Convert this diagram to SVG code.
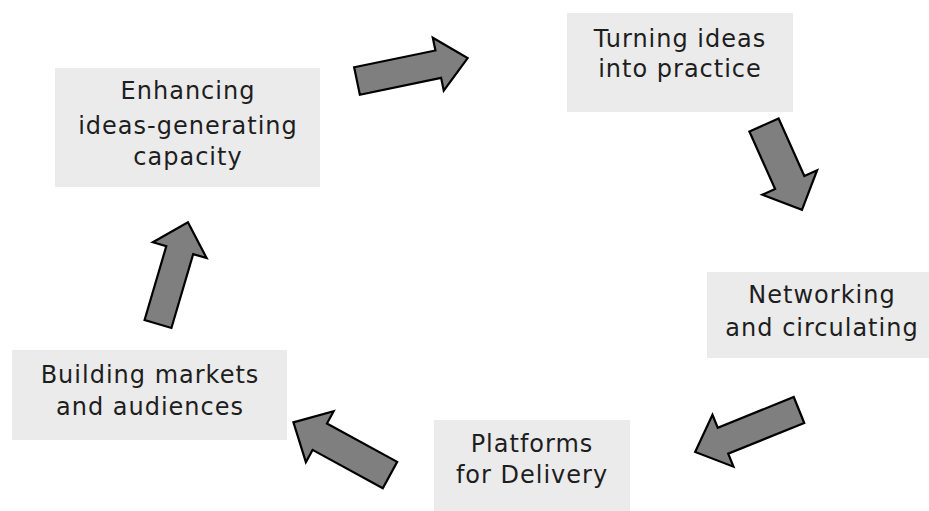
<svg xmlns="http://www.w3.org/2000/svg" width="929" height="511" viewBox="0 0 929 511">
<style>
.box{fill:#ebebeb}
.t{font-family:"DejaVu Sans",Verdana,sans-serif;font-size:24px;letter-spacing:1px;fill:#1e1e1e;text-anchor:middle}
.arr{fill:#7f7f7f;stroke:#000;stroke-width:2.2;stroke-linejoin:miter}
</style>
<rect width="929" height="511" fill="#fff"/>
<g id="node-enhancing">
<rect class="box" x="55" y="68" width="265" height="119"/>
<text class="t" x="188" y="99">Enhancing</text>
<text class="t" x="188" y="134">ideas-generating</text>
<text class="t" x="188" y="165">capacity</text>
</g>
<g id="node-turning">
<rect class="box" x="567" y="13" width="226" height="99"/>
<text class="t" x="680" y="47">Turning ideas</text>
<text class="t" x="680" y="77">into practice</text>
</g>
<g id="node-networking">
<rect class="box" x="707" y="272" width="222" height="86"/>
<text class="t" x="822" y="303">Networking</text>
<text class="t" x="822" y="336">and circulating</text>
</g>
<g id="node-platforms">
<rect class="box" x="434" y="420" width="196" height="91"/>
<text class="t" x="532" y="452">Platforms</text>
<text class="t" x="532" y="483">for Delivery</text>
</g>
<g id="node-building">
<rect class="box" x="12" y="350" width="275" height="90"/>
<text class="t" x="150" y="383">Building markets</text>
<text class="t" x="150" y="415">and audiences</text>
</g>
<g id="connectors">
<polygon class="arr" transform="translate(357,81) rotate(-11.7)" points="0,-14 83,-14 83,-27 113,0 83,27 83,14 0,14"/>
<polygon class="arr" transform="translate(764,125) rotate(65.9)" points="0,-16 63,-16 63,-30 93,0 63,30 63,16 0,16"/>
<polygon class="arr" transform="translate(799,410) rotate(158)" points="0,-14 82,-14 82,-28 112,0 82,28 82,14 0,14"/>
<polygon class="arr" transform="translate(390,475) rotate(208.6)" points="0,-15 80,-15 80,-29 110,0 80,29 80,15 0,15"/>
<polygon class="arr" transform="translate(158,324) rotate(-73.6)" points="0,-14 77,-14 77,-28 106,0 77,28 77,14 0,14"/>
</g>
</svg>
